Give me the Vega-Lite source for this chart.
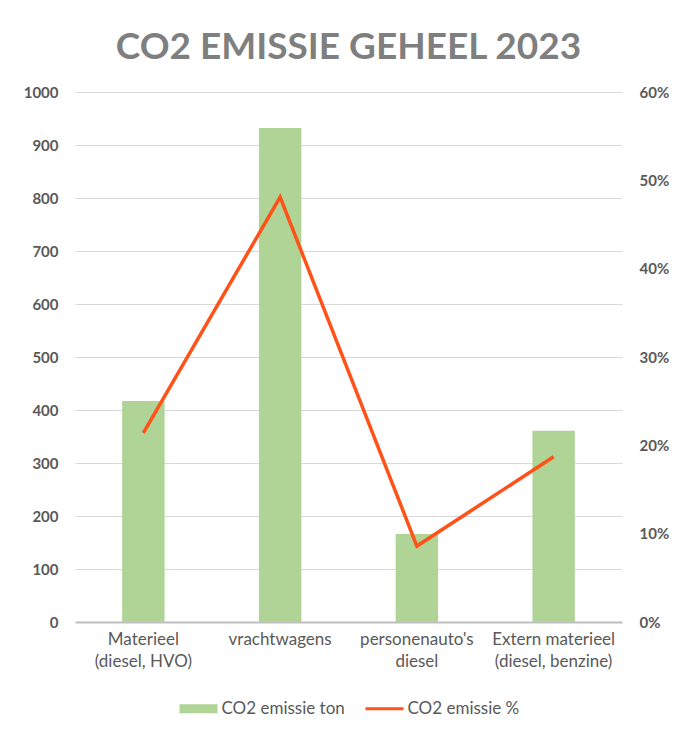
{
  "$schema": "https://vega.github.io/schema/vega-lite/v6.json",
  "width": 547,
  "height": 530,
  "autosize": {"type": "none"},
  "padding": {"left": 75, "top": 92, "right": 52, "bottom": 109},
  "background": "white",
  "title": {
    "text": "CO2 EMISSIE GEHEEL 2023",
    "font": "Lato",
    "fontSize": 37,
    "fontWeight": "bold",
    "color": "#7f7f7f",
    "anchor": "middle",
    "offset": 18,
    "limit": 0
  },
  "config": {
    "view": {"stroke": null},
    "font": "Lato",
    "axis": {"labelFont": "Lato", "labelColor": "#595959", "labelFontSize": 15, "titleFontSize": 14},
    "legend": {"labelFont": "Lato"}
  },
  "data": {
    "values": [
      {"categorie": "Materieel (diesel, HVO)", "ton": 417, "pct": 0.214},
      {"categorie": "vrachtwagens", "ton": 932, "pct": 0.481},
      {"categorie": "personenauto's diesel", "ton": 166, "pct": 0.086},
      {"categorie": "Extern materieel (diesel, benzine)", "ton": 361, "pct": 0.187}
    ]
  },
  "encoding": {
    "x": {
      "field": "categorie",
      "type": "nominal",
      "sort": null,
      "scale": {"paddingInner": 0.69, "paddingOuter": 0.345},
      "axis": {
        "title": null,
        "labelAngle": 0,
        "ticks": false,
        "domainColor": "#bfbfbf",
        "domainWidth": 2,
        "labelPadding": 9,
        "labelFontSize": 17,
        "labelLineHeight": 22,
        "labelFontWeight": "normal",
        "labelExpr": "datum.value == 'Materieel (diesel, HVO)' ? ['Materieel', '(diesel, HVO)'] : datum.value == \"personenauto's diesel\" ? [\"personenauto's\", 'diesel'] : datum.value == 'Extern materieel (diesel, benzine)' ? ['Extern materieel', '(diesel, benzine)'] : datum.value"
      }
    }
  },
  "layer": [
    {
      "mark": {"type": "bar", "fill": "#afd495"},
      "encoding": {
        "y": {
          "field": "ton",
          "type": "quantitative",
          "scale": {"domain": [0, 1000], "nice": false},
          "axis": {
            "title": null,
            "format": "d",
            "values": [0, 100, 200, 300, 400, 500, 600, 700, 800, 900, 1000],
            "grid": true,
            "gridColor": "#d9d9d9",
            "domain": false,
            "ticks": false,
            "labelPadding": 17,
            "labelFontWeight": "bold"
          }
        },
        "color": {
          "datum": "CO2 emissie ton",
          "type": "nominal",
          "scale": {"domain": ["CO2 emissie ton", "CO2 emissie %"], "range": ["#afd495", "#ff5219"]},
          "legend": {
            "title": null,
            "orient": "none",
            "legendX": 115,
            "legendY": 608,
            "direction": "horizontal",
            "symbolSize": 5776,
            "labelFontSize": 17,
            "labelColor": "#595959",
            "labelOffset": 14.5,
            "columnPadding": 14,
            "encode": {
              "symbols": {
                "update": {
                  "shape": {"signal": "datum.value === 'CO2 emissie %' ? 'M-0.5,0H0.5' : 'M-0.5,-0.12H0.5V0.12H-0.5Z'"},
                  "fill": {"signal": "datum.value === 'CO2 emissie %' ? 'transparent' : '#afd495'"},
                  "stroke": {"signal": "datum.value === 'CO2 emissie %' ? '#ff5219' : 'transparent'"},
                  "strokeWidth": {"signal": "datum.value === 'CO2 emissie %' ? 3 : 0"},
                  "opacity": {"value": 1}
                }
              }
            }
          }
        }
      }
    },
    {
      "mark": {"type": "line", "strokeWidth": 3.5},
      "encoding": {
        "y": {
          "field": "pct",
          "type": "quantitative",
          "scale": {"domain": [0, 0.6], "nice": false},
          "axis": {
            "title": null,
            "orient": "right",
            "format": ".0%",
            "values": [0, 0.1, 0.2, 0.3, 0.4, 0.5, 0.6],
            "grid": false,
            "domain": false,
            "ticks": false,
            "labelPadding": 17,
            "labelFontWeight": "bold"
          }
        },
        "color": {"datum": "CO2 emissie %", "type": "nominal"}
      }
    }
  ],
  "resolve": {"scale": {"y": "independent"}}
}
